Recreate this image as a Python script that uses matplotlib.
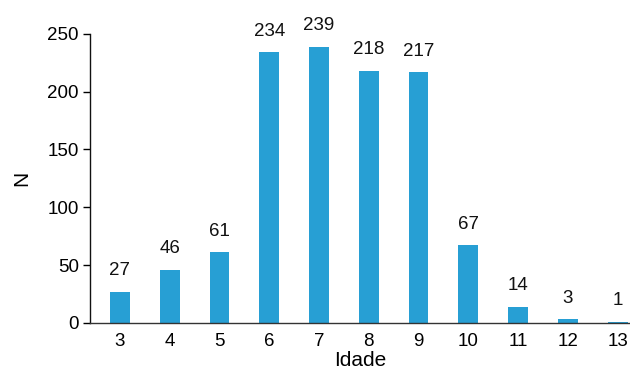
import matplotlib
matplotlib.use("Agg")
import matplotlib.pyplot as plt

plt.rcParams['font.family'] = ['Liberation Sans', 'DejaVu Sans']

idades = ['3', '4', '5', '6', '7', '8', '9', '10', '11', '12', '13']
contagens = [27, 46, 61, 234, 239, 218, 217, 67, 14, 3, 1]
y_ticks = [0, 50, 100, 150, 200, 250]

fig = plt.figure(figsize=(6.3, 3.72), dpi=100)
ax = fig.add_axes([0.143, 0.132, 0.857, 0.777])

x = list(range(len(idades)))
bars = ax.bar(x, contagens, width=0.4, color='#279fd4', zorder=2)

for xi, v in zip(x, contagens):
    ax.annotate(str(v), (xi, v), xytext=(0, 9), textcoords='offset points',
                ha='center', va='bottom', fontsize=13.5, color='#111111',
                annotation_clip=False)

ax.set_xlim(-0.6, len(idades) - 0.75)
ax.set_ylim(0, 250)
ax.set_xticks(x)
ax.set_xticklabels(idades)
ax.set_yticks(y_ticks)
ax.tick_params(axis='x', length=0, pad=7, labelsize=13.5)
ax.tick_params(axis='y', length=5, width=1, direction='out', pad=3, labelsize=13.5)

for side in ['top', 'right']:
    ax.spines[side].set_visible(False)
ax.spines['left'].set_linewidth(1)
ax.spines['bottom'].set_linewidth(1)
ax.spines['bottom'].set_color('#333333')
ax.spines['left'].set_color('#111111')

ax.set_xlabel('Idade', fontsize=15, labelpad=1)
ax.set_ylabel('N', fontsize=15, labelpad=12)

fig.savefig('out.png', dpi=100)
